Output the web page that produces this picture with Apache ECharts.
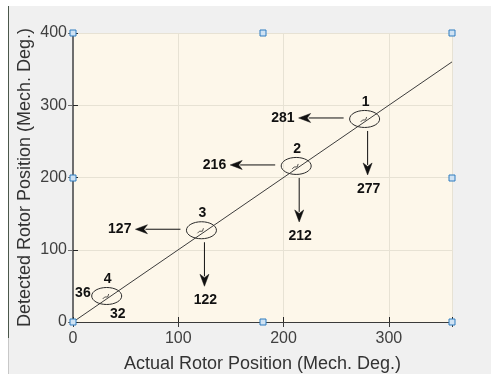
<!DOCTYPE html>
<html>
<head>
<meta charset="utf-8">
<script src="https://cdn.jsdelivr.net/npm/echarts@6/dist/echarts.min.js"></script>
<style>
  html, body { margin: 0; padding: 0; background: #ffffff; }
  #chart { width: 491px; height: 374px; }
</style>
</head>
<body>
<div id="chart"></div>
<script>
// Measured positions of the four marked rotor positions
const pointIds = ['1', '2', '3', '4'];
const actualPos = [277, 212, 122, 32];     // Actual Rotor Position (Mech. Deg.)
const detectedPos = [281, 216, 127, 36];   // Detected Rotor Position (Mech. Deg.)

// Ideal reference line (detected = actual)
const refX = [0, 360];
const refY = [0, 360];

const xTicks = [0, 100, 200, 300];
const yTicks = [0, 100, 200, 300, 400];

// Plot frame in pixels
const G = { left: 73, top: 33, right: 452, bottom: 322 };
const FONT = '"Liberation Sans", Arial, Helvetica, sans-serif';
const INK = '#111111';

const chart = echarts.init(document.getElementById('chart'), null, { renderer: 'canvas' });

function arrowHead(tipX, tipY, dir) {
  // dir: 'left' or 'down'; MATLAB-style notched arrow head
  const L = 12, W = 4.5, N = 3.5;
  let pts;
  if (dir === 'left') {
    pts = [[tipX, tipY], [tipX + L, tipY - W], [tipX + L - N, tipY], [tipX + L, tipY + W]];
  } else {
    pts = [[tipX, tipY], [tipX - W, tipY - L], [tipX, tipY - L + N], [tipX + W, tipY - L]];
  }
  return { type: 'polygon', shape: { points: pts }, style: { fill: INK, stroke: INK, lineWidth: 0.5 }, z2: 5 };
}

function boldText(txt, x, y, align) {
  return {
    type: 'text',
    style: {
      text: txt, x: x, y: y,
      fill: INK, font: 'bold 14px ' + FONT,
      align: align || 'center', verticalAlign: 'middle'
    },
    z2: 6
  };
}

function renderMarker(params, api) {
  const idx = params.dataIndex;
  const act = api.value(0);
  const det = api.value(1);
  const c = api.coord([act, det]);
  const cx = c[0], cy = c[1];
  const children = [];

  // Ellipse around the point
  children.push({
    type: 'ellipse',
    shape: { cx: cx, cy: cy, rx: 15, ry: 8.5 },
    style: { fill: null, stroke: '#2a2a2a', lineWidth: 1 },
    z2: 4
  });
  // Small step drawn inside the ellipse
  children.push({
    type: 'polyline',
    shape: { points: [[cx - 4, cy + 3], [cx - 2, cy + 1], [cx + 1, cy + 1], [cx + 2, cy - 2]] },
    style: { fill: null, stroke: '#2a2a2a', lineWidth: 0.8 },
    z2: 4
  });
  // Point number above the ellipse
  children.push(boldText(pointIds[idx], cx + 1, cy - 17, 'center'));

  if (idx < 3) {
    // Left arrow to detected value
    const hy = cy - 1;
    children.push({
      type: 'line',
      shape: { x1: cx - 21, y1: hy, x2: cx - 56, y2: hy },
      style: { stroke: INK, lineWidth: 1 }, z2: 5
    });
    children.push(arrowHead(cx - 66, hy, 'left'));
    children.push(boldText(String(det), cx - 70, hy, 'right'));

    // Down arrow to actual value
    const vx = cx + 3;
    children.push({
      type: 'line',
      shape: { x1: vx, y1: cy + 12, x2: vx, y2: cy + 46 },
      style: { stroke: INK, lineWidth: 1 }, z2: 5
    });
    children.push(arrowHead(vx, cy + 56, 'down'));
    children.push(boldText(String(act), vx + 1, cy + 70, 'center'));
  } else {
    children.push(boldText(String(det), cx - 16, cy - 3, 'right'));
    children.push(boldText(String(act), cx + 11, cy + 18, 'center'));
  }
  return { type: 'group', children: children };
}

const markerData = actualPos.map((a, i) => [a, detectedPos[i]]);

// Selection handles on the axes frame
const handleSpots = [
  [G.left, G.top], [(G.left + G.right) / 2, G.top], [G.right, G.top],
  [G.left, (G.top + G.bottom) / 2], [G.right, (G.top + G.bottom) / 2],
  [G.left, G.bottom], [(G.left + G.right) / 2, G.bottom], [G.right, G.bottom]
];
const handles = handleSpots.map(p => ({
  type: 'rect',
  shape: { x: Math.round(p[0]) - 3, y: Math.round(p[1]) - 3, width: 6, height: 6 },
  style: { fill: '#cfe2f3', stroke: '#2e7cc0', lineWidth: 1 },
  z: 100
}));

const axisText = { color: '#404040', fontSize: 16, fontFamily: FONT };
const nameText = { color: '#333333', fontSize: 18, fontFamily: FONT };
const tickFmt = list => v => (list.indexOf(v) >= 0 ? String(v) : '');

chart.setOption({
  animation: false,
  backgroundColor: '#ffffff',
  graphic: [
    { type: 'rect', shape: { x: 8, y: 6, width: 483, height: 368 }, style: { fill: '#f0f0f0' }, z: -10 },
    { type: 'line', shape: { x1: 8.5, y1: 6, x2: 8.5, y2: 338 }, style: { stroke: '#4b574b', lineWidth: 1 }, z: -9 },
    { type: 'line', shape: { x1: 8.5, y1: 338, x2: 8.5, y2: 374 }, style: { stroke: '#c8c8c8', lineWidth: 1 }, z: -9 }
  ].concat(handles),
  grid: {
    left: G.left, top: G.top, right: 491 - G.right, bottom: 374 - G.bottom,
    containLabel: false, outerBoundsMode: 'none',
    show: true, backgroundColor: '#fdf7ea', borderWidth: 0
  },
  xAxis: [
    {
      type: 'value', min: 0, max: 360, interval: 100, position: 'bottom',
      name: 'Actual Rotor Position (Mech. Deg.)', nameLocation: 'middle', nameGap: 33,
      nameTextStyle: nameText,
      axisLine: { show: true, lineStyle: { color: '#262626', width: 1 } },
      axisTick: { show: true, inside: true, length: 5, lineStyle: { color: '#262626' } },
      axisLabel: Object.assign({ margin: 9, formatter: tickFmt(xTicks) }, axisText),
      splitLine: { show: true, lineStyle: { color: '#e7e2d4', width: 1 } }
    },
    {
      type: 'value', min: 0, max: 360, interval: 100, position: 'top',
      axisLine: { show: true, lineStyle: { color: '#3a3a3a', width: 1 } },
      axisTick: { show: true, inside: true, length: 5, lineStyle: { color: '#3a3a3a' } },
      axisLabel: { show: false }, splitLine: { show: false }
    }
  ],
  yAxis: [
    {
      type: 'value', min: 0, max: 400, interval: 100, position: 'left',
      name: 'Detected Rotor Position (Mech. Deg.)', nameLocation: 'middle', nameGap: 39,
      nameMoveOverlap: false,
      nameTextStyle: nameText,
      axisLine: { show: true, lineStyle: { color: '#262626', width: 1 } },
      axisTick: { show: true, inside: true, length: 5, lineStyle: { color: '#262626' } },
      axisLabel: Object.assign({ margin: 6, formatter: tickFmt(yTicks) }, axisText),
      splitLine: { show: true, lineStyle: { color: '#e7e2d4', width: 1 } }
    },
    {
      type: 'value', min: 0, max: 400, interval: 100, position: 'right',
      axisLine: { show: true, lineStyle: { color: '#6e6e6e', width: 2 } },
      axisTick: { show: true, inside: true, length: 5, lineStyle: { color: '#6e6e6e' } },
      axisLabel: { show: false }, splitLine: { show: false }
    }
  ],
  series: [
    {
      type: 'line',
      data: refX.map((x, i) => [x, refY[i]]),
      showSymbol: false, symbol: 'none',
      lineStyle: { color: '#3c3c3c', width: 1 },
      silent: true, z: 3
    },
    {
      type: 'custom',
      data: markerData,
      renderItem: renderMarker,
      clip: false,
      silent: true, z: 4
    }
  ]
});
</script>
</body>
</html>
